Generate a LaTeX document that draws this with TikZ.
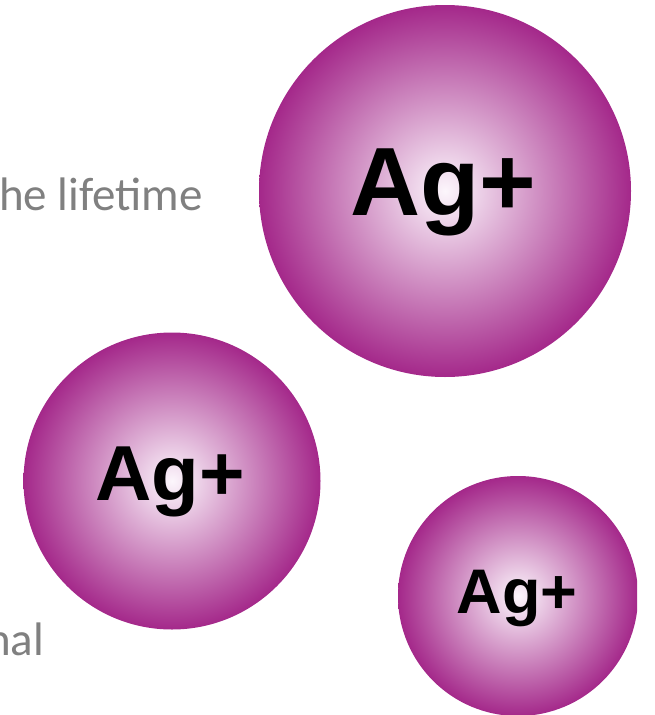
\documentclass[tikz,border=0pt]{standalone}
\usepackage{fontspec}
\newfontfamily\arialfont{Liberation Sans}
\newfontfamily\calibrifont{Carlito}
\definecolor{agpurple}{RGB}{164,40,138}
\definecolor{agcenter}{RGB}{252,246,252}
\definecolor{slidegray}{RGB}{128,128,128}
\pgfdeclareradialshading{agball}{\pgfpoint{0bp}{0bp}}{color(0bp)=(agcenter); color(25bp)=(agpurple); color(50bp)=(agpurple)}
\tikzset{
  ion/.style={shading=agball},
  ionlabel/.style={anchor=base, inner sep=0pt, text=black},
  slidetext/.style={anchor=base west, inner sep=0pt, text=slidegray, font=\calibrifont\fontsize{47}{56}\selectfont}
}
\begin{document}
\begin{tikzpicture}[x=1pt,y=-1pt]
\useasboundingbox (0,0) rectangle (654,715);
\clip (0,0) rectangle (654,715);
% slide text fragments
\node[slidetext] (t1) at (-1,210) {he lifetime};
\node[slidetext] (t2) at (-14,655) {nal};
% big ion
\shade[ion] (445,191) circle (186);
\node[ionlabel, font=\arialfont\bfseries\fontsize{97}{110}\selectfont] (ag1) at (443,215) {Ag+};
% medium ion
\shade[ion] (172,481) circle (148.5);
\node[ionlabel, font=\arialfont\bfseries\fontsize{78}{90}\selectfont] (ag2) at (170,500) {Ag+};
% small ion
\begin{scope}
\clip (0,0) rectangle (637,715);
\shade[ion] (518,596) circle (120);
\end{scope}
\node[ionlabel, font=\arialfont\bfseries\fontsize{63}{72}\selectfont] (ag3) at (517,613) {Ag+};
\end{tikzpicture}
\end{document}
